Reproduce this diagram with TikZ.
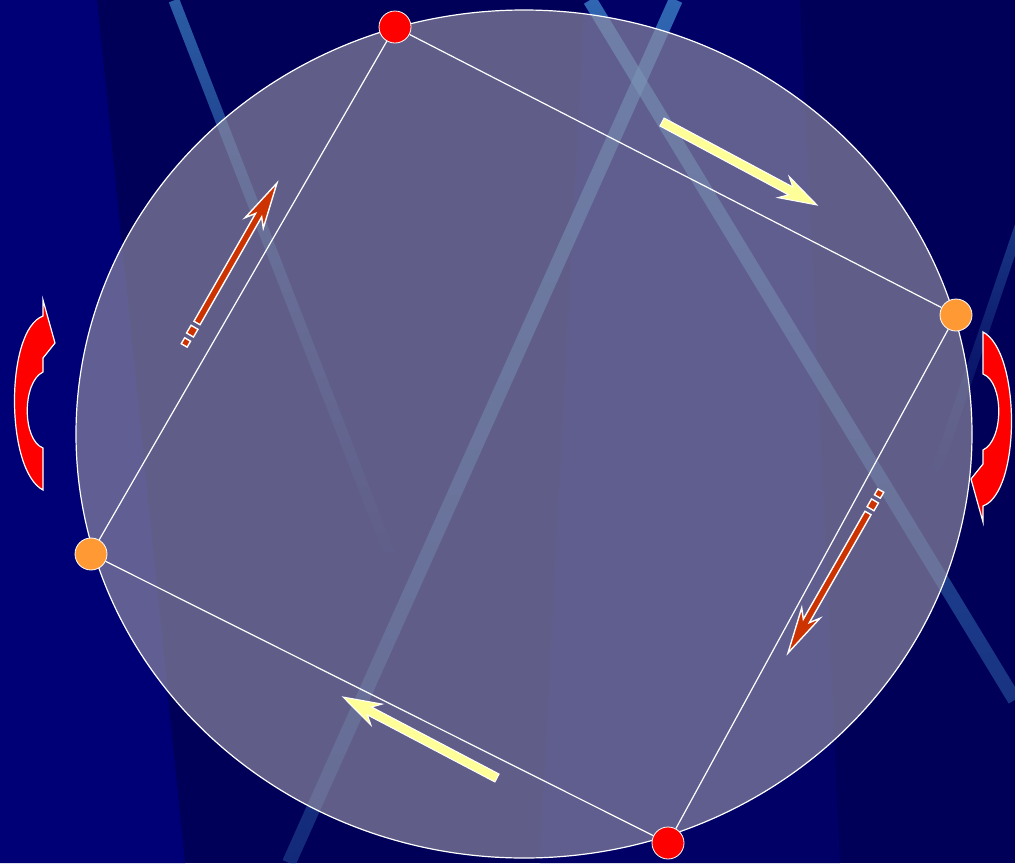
\documentclass[tikz,border=0pt]{standalone}
\usetikzlibrary{calc,fadings}
\definecolor{bgbase}{RGB}{0,0,88}
\definecolor{bgleft}{RGB}{0,0,118}
\definecolor{bgmid}{RGB}{0,0,102}
\definecolor{stripe}{RGB}{80,170,230}
\definecolor{disc}{RGB}{144,141,162}
\definecolor{dotred}{RGB}{255,0,0}
\definecolor{dotorange}{RGB}{255,153,51}
\definecolor{arrred}{RGB}{204,51,0}
\definecolor{arryellow}{RGB}{255,255,153}
\definecolor{curvred}{RGB}{255,0,0}
\tikzfading[name=fadeone, top color=transparent!0, middle color=transparent!35, bottom color=transparent!100]
\tikzfading[name=fadetwo, top color=transparent!0, middle color=transparent!0, bottom color=transparent!60]
\tikzfading[name=fadethree, top color=transparent!0, middle color=transparent!0, bottom color=transparent!50]
\tikzfading[name=fadefour, top color=transparent!20, middle color=transparent!40, bottom color=transparent!100]
\newcommand\fatarrow[7]{% style, tail, tip, shaft hw, head hw, barb dist, join dist
  \coordinate (fa-j) at ($(#3)!#7!(#2)$);
  \coordinate (fa-b) at ($(#3)!#6!(#2)$);
  \path[#1] ($(#2)!#4!90:(#3)$) -- ($(fa-j)!#4!90:(#3)$) -- ($(fa-b)!#5!90:(#3)$) -- (#3)
     -- ($(fa-b)!#5!-90:(#3)$) -- ($(fa-j)!#4!-90:(#3)$) -- ($(#2)!#4!-90:(#3)$) -- cycle;}
\newcommand\flatbar[4]{% style, A, B, hw
  \path[#1] ($(#2)!#4!90:(#3)$) -- ($(#3)!#4!-90:(#2)$) -- ($(#3)!#4!90:(#2)$) -- ($(#2)!#4!-90:(#3)$) -- cycle;}
\begin{document}
\begin{tikzpicture}[x=1pt,y=-1pt,
  stripestyle/.style={draw=stripe, draw opacity=#1},
  dotbase/.style={circle, minimum size=32pt, inner sep=0pt, draw=white, line width=0.8pt},
  reddot/.style={dotbase, fill=dotred},
  orangedot/.style={dotbase, fill=dotorange},
  edge/.style={draw=white, line width=1.2pt},
  redarrow/.style={fill=arrred, draw=white, line width=1.4pt, line join=miter},
  yellowarrow/.style={fill=arryellow, draw=white, line width=1pt, line join=miter},
  curvarrow/.style={fill=curvred, draw=white, line width=1.2pt, line join=miter}]
\useasboundingbox (0,0) rectangle (1015,863);
% background
\fill[bgbase] (0,0) rectangle (1015,863);
\fill[bgleft] (0,0) -- (97,0) -- (185,863) -- (0,863) -- cycle;
\fill[bgmid] (585,0) -- (800,0) -- (840,863) -- (540,863) -- cycle;
% light stripes
\draw[stripestyle=0.55, line width=11pt, path fading=fadeone] (174,0) -- (392,560);
\draw[stripestyle=0.6, line width=14pt, path fading=fadetwo] (676,0) -- (289,863);
\draw[stripestyle=0.6, line width=14pt, path fading=fadethree] (590,0) -- (1015,700);
\draw[stripestyle=0.4, line width=10pt, path fading=fadefour] (1020,225) -- (935,475);
% disc
\fill[disc, fill opacity=0.667] (524,434) ellipse [x radius=448, y radius=424];
\draw[white, line width=1.2pt] (524,434) ellipse [x radius=448, y radius=424];
% vertices
\node[reddot] (t) at (395,27) {};
\node[orangedot] (r) at (956,315) {};
\node[reddot] (b) at (668,843) {};
\node[orangedot] (l) at (91,554) {};
\draw[edge] (t) -- (r) -- (b) -- (l) -- (t);
% yellow arrows
\coordinate (y1a) at (662,122); \coordinate (y1b) at (817,205);
\fatarrow{yellowarrow}{y1a}{y1b}{4.5pt}{12pt}{38pt}{30pt}
\coordinate (y2a) at (497,778); \coordinate (y2b) at (343,697);
\fatarrow{yellowarrow}{y2a}{y2b}{4.5pt}{12pt}{38pt}{30pt}
% red arrows
\coordinate (r1a) at (197,323); \coordinate (r1b) at (277,183);
\fatarrow{redarrow}{r1a}{r1b}{3.5pt}{10.5pt}{46pt}{37pt}
\coordinate (d1a) at (194.5,327.3); \coordinate (d1b) at (190,335);
\coordinate (d2a) at (187.6,339.5); \coordinate (d2b) at (184.2,345.4);
\flatbar{redarrow}{d1a}{d1b}{4pt}
\flatbar{redarrow}{d2a}{d2b}{3.4pt}
\coordinate (r2a) at (868,513); \coordinate (r2b) at (788,653);
\fatarrow{redarrow}{r2a}{r2b}{3.5pt}{10.5pt}{46pt}{37pt}
\coordinate (d3a) at (870.5,508.7); \coordinate (d3b) at (875,501);
\coordinate (d4a) at (877.4,496.5); \coordinate (d4b) at (880.8,490.6);
\flatbar{redarrow}{d3a}{d3b}{4pt}
\flatbar{redarrow}{d4a}{d4b}{3.4pt}
% curved arrows
\path[curvarrow] (43,490) .. controls (5,470) and (5,330) .. (43,316) -- (43,300) -- (55,343)
  -- (43,358) -- (43,372) .. controls (22,382) and (22,440) .. (43,448) -- cycle;
\begin{scope}[shift={(1026,822)}, rotate=180]
\path[curvarrow] (43,490) .. controls (5,470) and (5,330) .. (43,316) -- (43,300) -- (55,343)
  -- (43,358) -- (43,372) .. controls (22,382) and (22,440) .. (43,448) -- cycle;
\end{scope}
\end{tikzpicture}
\end{document}
